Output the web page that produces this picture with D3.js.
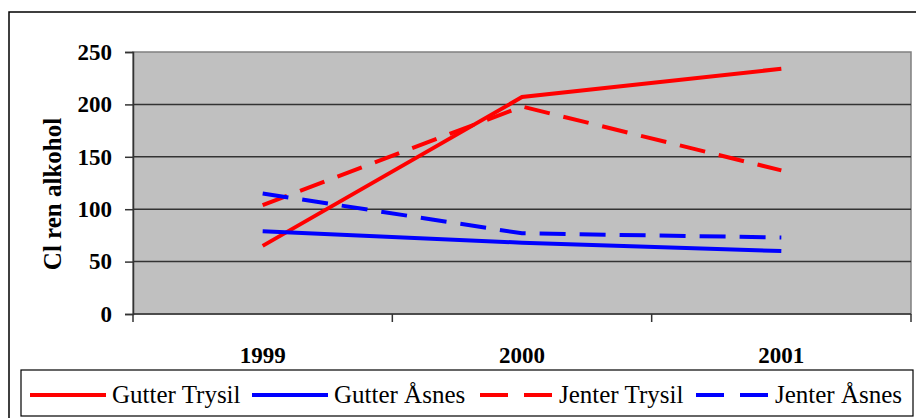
<!DOCTYPE html>
<html>
<head>
<meta charset="utf-8">
<script src="https://cdn.jsdelivr.net/npm/d3@7"></script>
<style>
  body { margin: 0; background: #fff; }
  svg { display: block; }
</style>
</head>
<body>
<div id="chart"></div>
<script>
// chart data
var years = ["1999", "2000", "2001"];
var yTicks = [0, 50, 100, 150, 200, 250];
var gutterTrysil = [65, 207, 234];
var gutterAsnes = [79, 68, 60];
var jenterTrysil = [104, 198, 137];
var jenterAsnes = [115, 77, 73];
var seriesNames = ["Gutter Trysil", "Gutter Åsnes", "Jenter Trysil", "Jenter Åsnes"];

var w = 916, h = 418;
var plot = { left: 133, top: 52, right: 911, bottom: 314 };
var serif = "'Liberation Serif', 'DejaVu Serif', serif";

var series = [
  { name: seriesNames[0], values: gutterTrysil, color: "#ff0000", dash: null },
  { name: seriesNames[1], values: gutterAsnes, color: "#0000ff", dash: null },
  { name: seriesNames[2], values: jenterTrysil, color: "#ff0000", dash: "26,14" },
  { name: seriesNames[3], values: jenterAsnes, color: "#0000ff", dash: "26,14" }
];

var svg = d3.select("#chart").append("svg")
  .attr("width", w)
  .attr("height", h);

// outer frame (runs off the right and bottom edge)
svg.append("rect")
  .attr("x", 9).attr("y", 12)
  .attr("width", 930).attr("height", 430)
  .attr("fill", "none").attr("stroke", "#000").attr("stroke-width", 1.5);

var x = d3.scaleBand().domain(years).range([plot.left, plot.right]).paddingInner(0).paddingOuter(0);
var y = d3.scaleLinear().domain([0, 250]).range([plot.bottom, plot.top]);

// plot background
svg.append("rect")
  .attr("x", plot.left).attr("y", plot.top)
  .attr("width", plot.right - plot.left).attr("height", plot.bottom - plot.top)
  .attr("fill", "#c0c0c0")
  .attr("stroke", "#808080").attr("stroke-width", 1.5);

// gridlines
svg.append("g")
  .selectAll("line")
  .data(yTicks.filter(function (d) { return d > 0 && d < 250; }))
  .enter()
  .append("line")
  .attr("x1", plot.left).attr("x2", plot.right)
  .attr("y1", function (d) { return y(d); })
  .attr("y2", function (d) { return y(d); })
  .attr("stroke", "#333").attr("stroke-width", 1.5);

// y axis
var yAxis = svg.append("g")
  .attr("transform", "translate(" + plot.left + ",0)")
  .call(d3.axisLeft(y).tickValues(yTicks).tickSize(8).tickPadding(13));
yAxis.select(".domain").attr("stroke", "#333").attr("stroke-width", 1.5);
yAxis.selectAll(".tick line").attr("stroke", "#333").attr("stroke-width", 1.5);
yAxis.selectAll("text")
  .attr("font-family", serif)
  .attr("font-weight", "bold")
  .attr("font-size", "23px")
  .attr("fill", "#000");

// x axis line and boundary ticks
svg.append("line")
  .attr("x1", plot.left).attr("x2", plot.right)
  .attr("y1", plot.bottom).attr("y2", plot.bottom)
  .attr("stroke", "#333").attr("stroke-width", 1.5);
var edges = years.map(function (d) { return x(d); }).concat([x(years[years.length - 1]) + x.bandwidth()]);
svg.append("g")
  .selectAll("line")
  .data(edges)
  .enter()
  .append("line")
  .attr("x1", function (d) { return d; }).attr("x2", function (d) { return d; })
  .attr("y1", plot.bottom).attr("y2", plot.bottom + 8)
  .attr("stroke", "#333").attr("stroke-width", 1.5);

var xAxis = svg.append("g")
  .attr("transform", "translate(0," + plot.bottom + ")")
  .call(d3.axisBottom(x).tickSize(0).tickPadding(33));
xAxis.select(".domain").remove();
xAxis.selectAll("text")
  .attr("font-family", serif)
  .attr("font-weight", "bold")
  .attr("font-size", "23px")
  .attr("fill", "#000");

// y title
svg.append("text")
  .attr("transform", "translate(61,194) rotate(-90)")
  .attr("text-anchor", "middle")
  .attr("font-family", serif)
  .attr("font-weight", "bold")
  .attr("font-size", "25px")
  .text("Cl ren alkohol");

// lines
var line = d3.line()
  .x(function (d, i) { return x(years[i]) + x.bandwidth() / 2; })
  .y(function (d) { return y(d); });

svg.append("g")
  .selectAll("path")
  .data(series)
  .enter()
  .append("path")
  .attr("d", function (d) { return line(d.values); })
  .attr("fill", "none")
  .attr("stroke", function (d) { return d.color; })
  .attr("stroke-width", 4)
  .attr("stroke-dasharray", function (d) { return d.dash; });

// legend
svg.append("rect")
  .attr("x", 21).attr("y", 370)
  .attr("width", 892).attr("height", 46)
  .attr("fill", "#fff").attr("stroke", "#000").attr("stroke-width", 1.2);

var legendX = [30, 252, 480, 696];
var leg = svg.append("g")
  .selectAll("g")
  .data(series)
  .enter()
  .append("g")
  .attr("transform", function (d, i) { return "translate(" + legendX[i] + ",395)"; });
leg.append("line")
  .attr("x1", 0).attr("x2", function (d) { return d.dash ? 72 : 76; })
  .attr("y1", 0).attr("y2", 0)
  .attr("stroke", function (d) { return d.color; })
  .attr("stroke-width", 4)
  .attr("stroke-dasharray", function (d) { return d.dash ? "28,16" : null; });
leg.append("text")
  .attr("x", function (d) { return d.dash ? 79 : 82; })
  .attr("y", 8)
  .attr("font-family", serif)
  .attr("font-size", "25px")
  .attr("fill", "#000")
  .text(function (d) { return d.name; });
</script>
</body>
</html>
